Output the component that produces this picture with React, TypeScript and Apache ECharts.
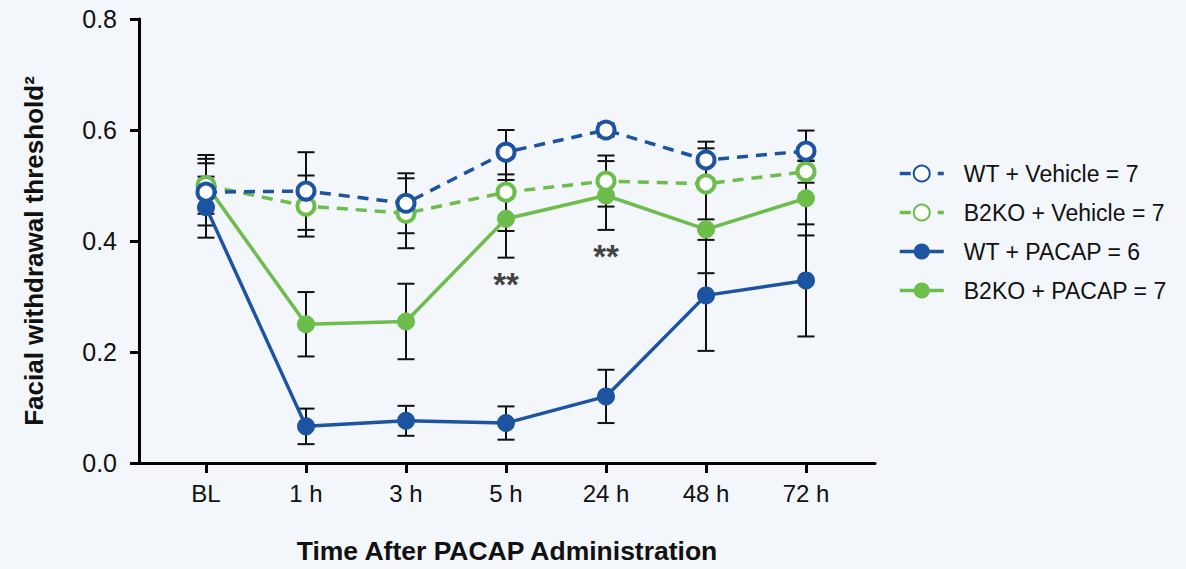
import React, { useEffect, useRef } from "react";
import * as echarts from "echarts";

const categories = ["BL", "1 h", "3 h", "5 h", "24 h", "48 h", "72 h"];
const yTicks = [0, 0.2, 0.4, 0.6, 0.8];

const seriesNames = [
  "WT + Vehicle = 7",
  "B2KO + Vehicle = 7",
  "WT + PACAP = 6",
  "B2KO + PACAP = 7",
];

const wtVehicle = [0.488, 0.49, 0.468, 0.56, 0.6, 0.546, 0.562];
const wtVehicleErr = [0.06, 0.07, 0.054, 0.04, 0.012, 0.033, 0.037];
const b2koVehicle = [0.5, 0.463, 0.45, 0.488, 0.508, 0.503, 0.525];
const b2koVehicleErr = [0.04, 0.055, 0.063, 0.07, 0.046, 0.064, 0.02];
const wtPacap = [0.461, 0.066, 0.076, 0.072, 0.12, 0.302, 0.329];
const wtPacapErr = [0.055, 0.032, 0.027, 0.03, 0.048, 0.1, 0.101];
const b2koPacap = [0.502, 0.25, 0.255, 0.44, 0.482, 0.421, 0.477];
const b2koPacapErr = [0.053, 0.058, 0.068, 0.07, 0.062, 0.079, 0.067];

// significance marks: [category index, y value, text]
const sigMarks: [number, number, string][] = [
  [3, 0.322, "**"],
  [4, 0.372, "**"],
];

const yTitle = "Facial withdrawal threshold²";
const xTitle = "Time After PACAP Administration";

const BLUE = "#1c54a2";
const GREEN = "#6cbd4b";
const BG = "#f3f6fa";
const FONT = "'Liberation Sans', Arial, sans-serif";

export default function App() {
  const ref = useRef<HTMLDivElement>(null);

  useEffect(() => {
    if (!ref.current) return;
    const chart = echarts.init(ref.current, undefined, { renderer: "svg" });

    const idx = categories.map((_, i) => i);

    const errSeries = (vals: number[], errs: number[], z: number) => ({
      type: "custom",
      silent: true,
      z,
      data: idx.map((i) => [i, vals[i], errs[i]]),
      renderItem: (params: any, api: any) => {
        const x = api.value(0);
        const y = api.value(1);
        const e = api.value(2);
        const top = api.coord([x, y + e]);
        const bot = api.coord([x, y - e]);
        const hw = 8.5;
        const style = { stroke: "#111", lineWidth: 2 };
        return {
          type: "group",
          children: [
            { type: "line", shape: { x1: top[0], y1: top[1], x2: bot[0], y2: bot[1] }, style },
            { type: "line", shape: { x1: top[0] - hw, y1: top[1], x2: top[0] + hw, y2: top[1] }, style },
            { type: "line", shape: { x1: bot[0] - hw, y1: bot[1], x2: bot[0] + hw, y2: bot[1] }, style },
          ],
        };
      },
    });

    const lineSeries = (name: string, vals: number[], color: string, open: boolean, z: number) => ({
      type: "line",
      name,
      z,
      data: idx.map((i) => [i, vals[i]]),
      symbol: "circle",
      symbolSize: open ? 17 : 18,
      showSymbol: true,
      lineStyle: { color, width: 3.5, type: open ? [11, 8] : "solid" },
      itemStyle: open
        ? { color: "#ffffff", borderColor: color, borderWidth: 4 }
        : { color, borderColor: color, borderWidth: 0 },
    });

    const option: any = {
      animation: false,
      backgroundColor: BG,
      textStyle: { fontFamily: FONT },
      grid: { left: 139, width: 736, top: 19, height: 449, containLabel: false },
      legend: {
        orient: "vertical",
        left: 893,
        top: 157,
        itemWidth: 44,
        itemHeight: 20,
        itemGap: 16,
        data: seriesNames,
        lineStyle: { width: 3.5 },
        textStyle: {
          fontFamily: FONT,
          fontSize: 23,
          color: "#111",
          lineHeight: 23,
          padding: [0, 0, 0, 15],
        },
      },
      graphic: [
        {
          type: "text",
          x: 34,
          y: 251,
          rotation: Math.PI / 2,
          style: {
            text: yTitle,
            fontFamily: FONT,
            fontSize: 26,
            fontWeight: "bold",
            fill: "#111",
            align: "center",
            verticalAlign: "middle",
          },
        },
      ],
      xAxis: {
        type: "value",
        min: -0.67,
        max: 6.69,
        name: xTitle,
        nameLocation: "middle",
        nameGap: 74,
        nameTextStyle: { fontFamily: FONT, fontSize: 26.5, fontWeight: "bold", color: "#111" },
        splitLine: { show: false },
        axisLine: { show: true, onZero: false, lineStyle: { color: "#000", width: 3 } },
        axisTick: {
          show: true,
          length: 10,
          lineStyle: { color: "#000", width: 3 },
          customValues: idx,
        },
        axisLabel: {
          show: true,
          customValues: idx,
          margin: 18,
          fontFamily: FONT,
          fontSize: 24,
          color: "#111",
          formatter: (v: number) => categories[Math.round(v)] ?? "",
        },
      },
      yAxis: {
        type: "value",
        min: 0,
        max: 0.8,
        interval: 0.2,
        splitLine: { show: false },
        axisLine: { show: true, onZero: false, lineStyle: { color: "#000", width: 3 } },
        axisTick: { show: true, length: 9, lineStyle: { color: "#000", width: 3 } },
        axisLabel: {
          margin: 22,
          fontFamily: FONT,
          fontSize: 25,
          color: "#111",
          formatter: (v: number) => (yTicks.includes(Math.round(v * 10) / 10) ? v.toFixed(1) : ""),
        },
      },
      series: [
        errSeries(wtPacap, wtPacapErr, 2),
        errSeries(b2koPacap, b2koPacapErr, 2),
        errSeries(b2koVehicle, b2koVehicleErr, 2),
        errSeries(wtVehicle, wtVehicleErr, 2),
        lineSeries(seriesNames[2], wtPacap, BLUE, false, 3),
        lineSeries(seriesNames[3], b2koPacap, GREEN, false, 4),
        lineSeries(seriesNames[1], b2koVehicle, GREEN, true, 5),
        lineSeries(seriesNames[0], wtVehicle, BLUE, true, 6),
        {
          type: "scatter",
          silent: true,
          z: 7,
          symbolSize: 1,
          itemStyle: { color: "rgba(0,0,0,0)" },
          data: sigMarks.map((m) => [m[0], m[1], m[2]]),
          label: {
            show: true,
            position: "inside",
            formatter: (p: any) => p.value[2],
            fontFamily: FONT,
            fontSize: 33,
            fontWeight: "bold",
            color: "#111",
          },
        },
      ],
    };

    chart.setOption(option);
    return () => chart.dispose();
  }, []);

  return (
    <div
      ref={ref}
      style={{ position: "fixed", left: 0, top: 0, width: 1186, height: 569, background: BG }}
    />
  );
}
